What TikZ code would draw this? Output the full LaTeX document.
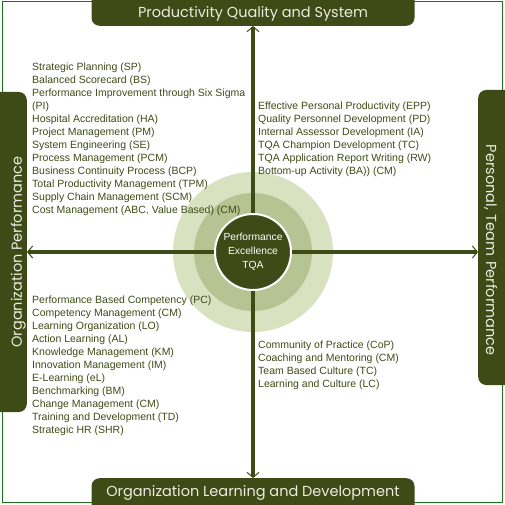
\documentclass[tikz,border=0pt]{standalone}
\usepackage{fontspec}
\setmainfont{Liberation Sans}
\newfontfamily\headfont{Poppins}
\usetikzlibrary{positioning,arrows.meta}
\definecolor{tqadark}{RGB}{62,75,22}
\definecolor{tqamid}{RGB}{182,195,146}
\definecolor{tqalight}{RGB}{216,225,192}
\definecolor{tqaframe}{RGB}{24,118,24}
\definecolor{tqahead}{RGB}{236,236,224}

\begin{document}
\begin{tikzpicture}[x=1pt,y=-1pt,
    headbox/.style={fill=tqadark, text=tqahead, rounded corners=8pt, inner sep=0pt,
                    font=\headfont\fontsize{14.5}{16}\selectfont},
    itemlist/.style={anchor=north west, align=left, inner sep=0pt, text=tqadark,
                     font=\fontsize{10.5}{13}\selectfont},
    axis/.style={draw=tqadark, line width=4.3pt,
                 -{Straight Barb[length=5pt,width=12pt,line width=1pt]}}]
            \clip (0,0) rectangle (505,505);
            \draw[tqaframe, line width=1pt] (2.5,1.5) rectangle (502.5,502);

            %Nodes
            \node[circle, fill=tqalight, minimum size=160pt] (outer) at (253,252) {};
            \node[circle, fill=tqamid, minimum size=118pt] (inner) at (253,252) {};
            \node[circle, fill=tqadark, draw=white, line width=2pt, minimum size=76pt,
                  inner sep=0pt, align=center, text=white,
                  font=\fontsize{10.3}{14}\selectfont] (hub) at (253,252)
                 {Performance\\Excellence\\TQA};

            \node[headbox, anchor=south, minimum width=323pt, text height=30pt,
                  text depth=8pt] (prod) at (253,26) {Productivity Quality and System};
            \node[headbox, anchor=north, minimum width=323pt, text height=18pt,
                  text depth=20pt] (learn) at (253,478) {Organization Learning and Development};
            \node[headbox, rotate=90, anchor=south, minimum width=320pt, text height=35pt,
                  text depth=5pt] (org) at (27,252) {Organization Performance};
            \node[headbox, rotate=-90, anchor=south, text width=295pt, align=left,
                  text height=40pt, text depth=8pt] (pers) at (478,237.5)
                 {\hspace*{55pt}Personal, Team Performance};

            \node[itemlist] (sysl) at (32,63) {Strategic Planning (SP)\\
                Balanced Scorecard (BS)\\
                Performance Improvement through Six Sigma\\
                (PI)\\
                Hospital Accreditation (HA)\\
                Project Management (PM)\\
                System Engineering (SE)\\
                Process Management (PCM)\\
                Business Continuity Process (BCP)\\
                Total Productivity Management (TPM)\\
                Supply Chain Management (SCM)\\
                Cost Management (ABC, Value Based) (CM)};
            \node[itemlist] (persl) at (258,102) {Effective Personal Productivity (EPP)\\
                Quality Personnel Development (PD)\\
                Internal Assessor Development (IA)\\
                TQA Champion Development (TC)\\
                TQA Application Report Writing (RW)\\
                Bottom-up Activity (BA)) (CM)};
            \node[itemlist] (orgl) at (32,296) {Performance Based Competency (PC)\\
                Competency Management (CM)\\
                Learning Organization (LO)\\
                Action Learning (AL)\\
                Knowledge Management (KM)\\
                Innovation Management (IM)\\
                E-Learning (eL)\\
                Benchmarking (BM)\\
                Change Management (CM)\\
                Training and Development (TD)\\
                Strategic HR (SHR)};
            \node[itemlist] (teaml) at (258,341) {Community of Practice (CoP)\\
                Coaching and Mentoring (CM)\\
                Team Based Culture (TC)\\
                Learning and Culture (LC)};

            %Lines
            \draw[axis] (hub) -- (prod);
            \draw[axis] (hub) -- (learn);
            \draw[axis] (hub) -- (org);
            \draw[axis] (hub) -- (hub -| pers.south);
        \end{tikzpicture}
\end{document}
